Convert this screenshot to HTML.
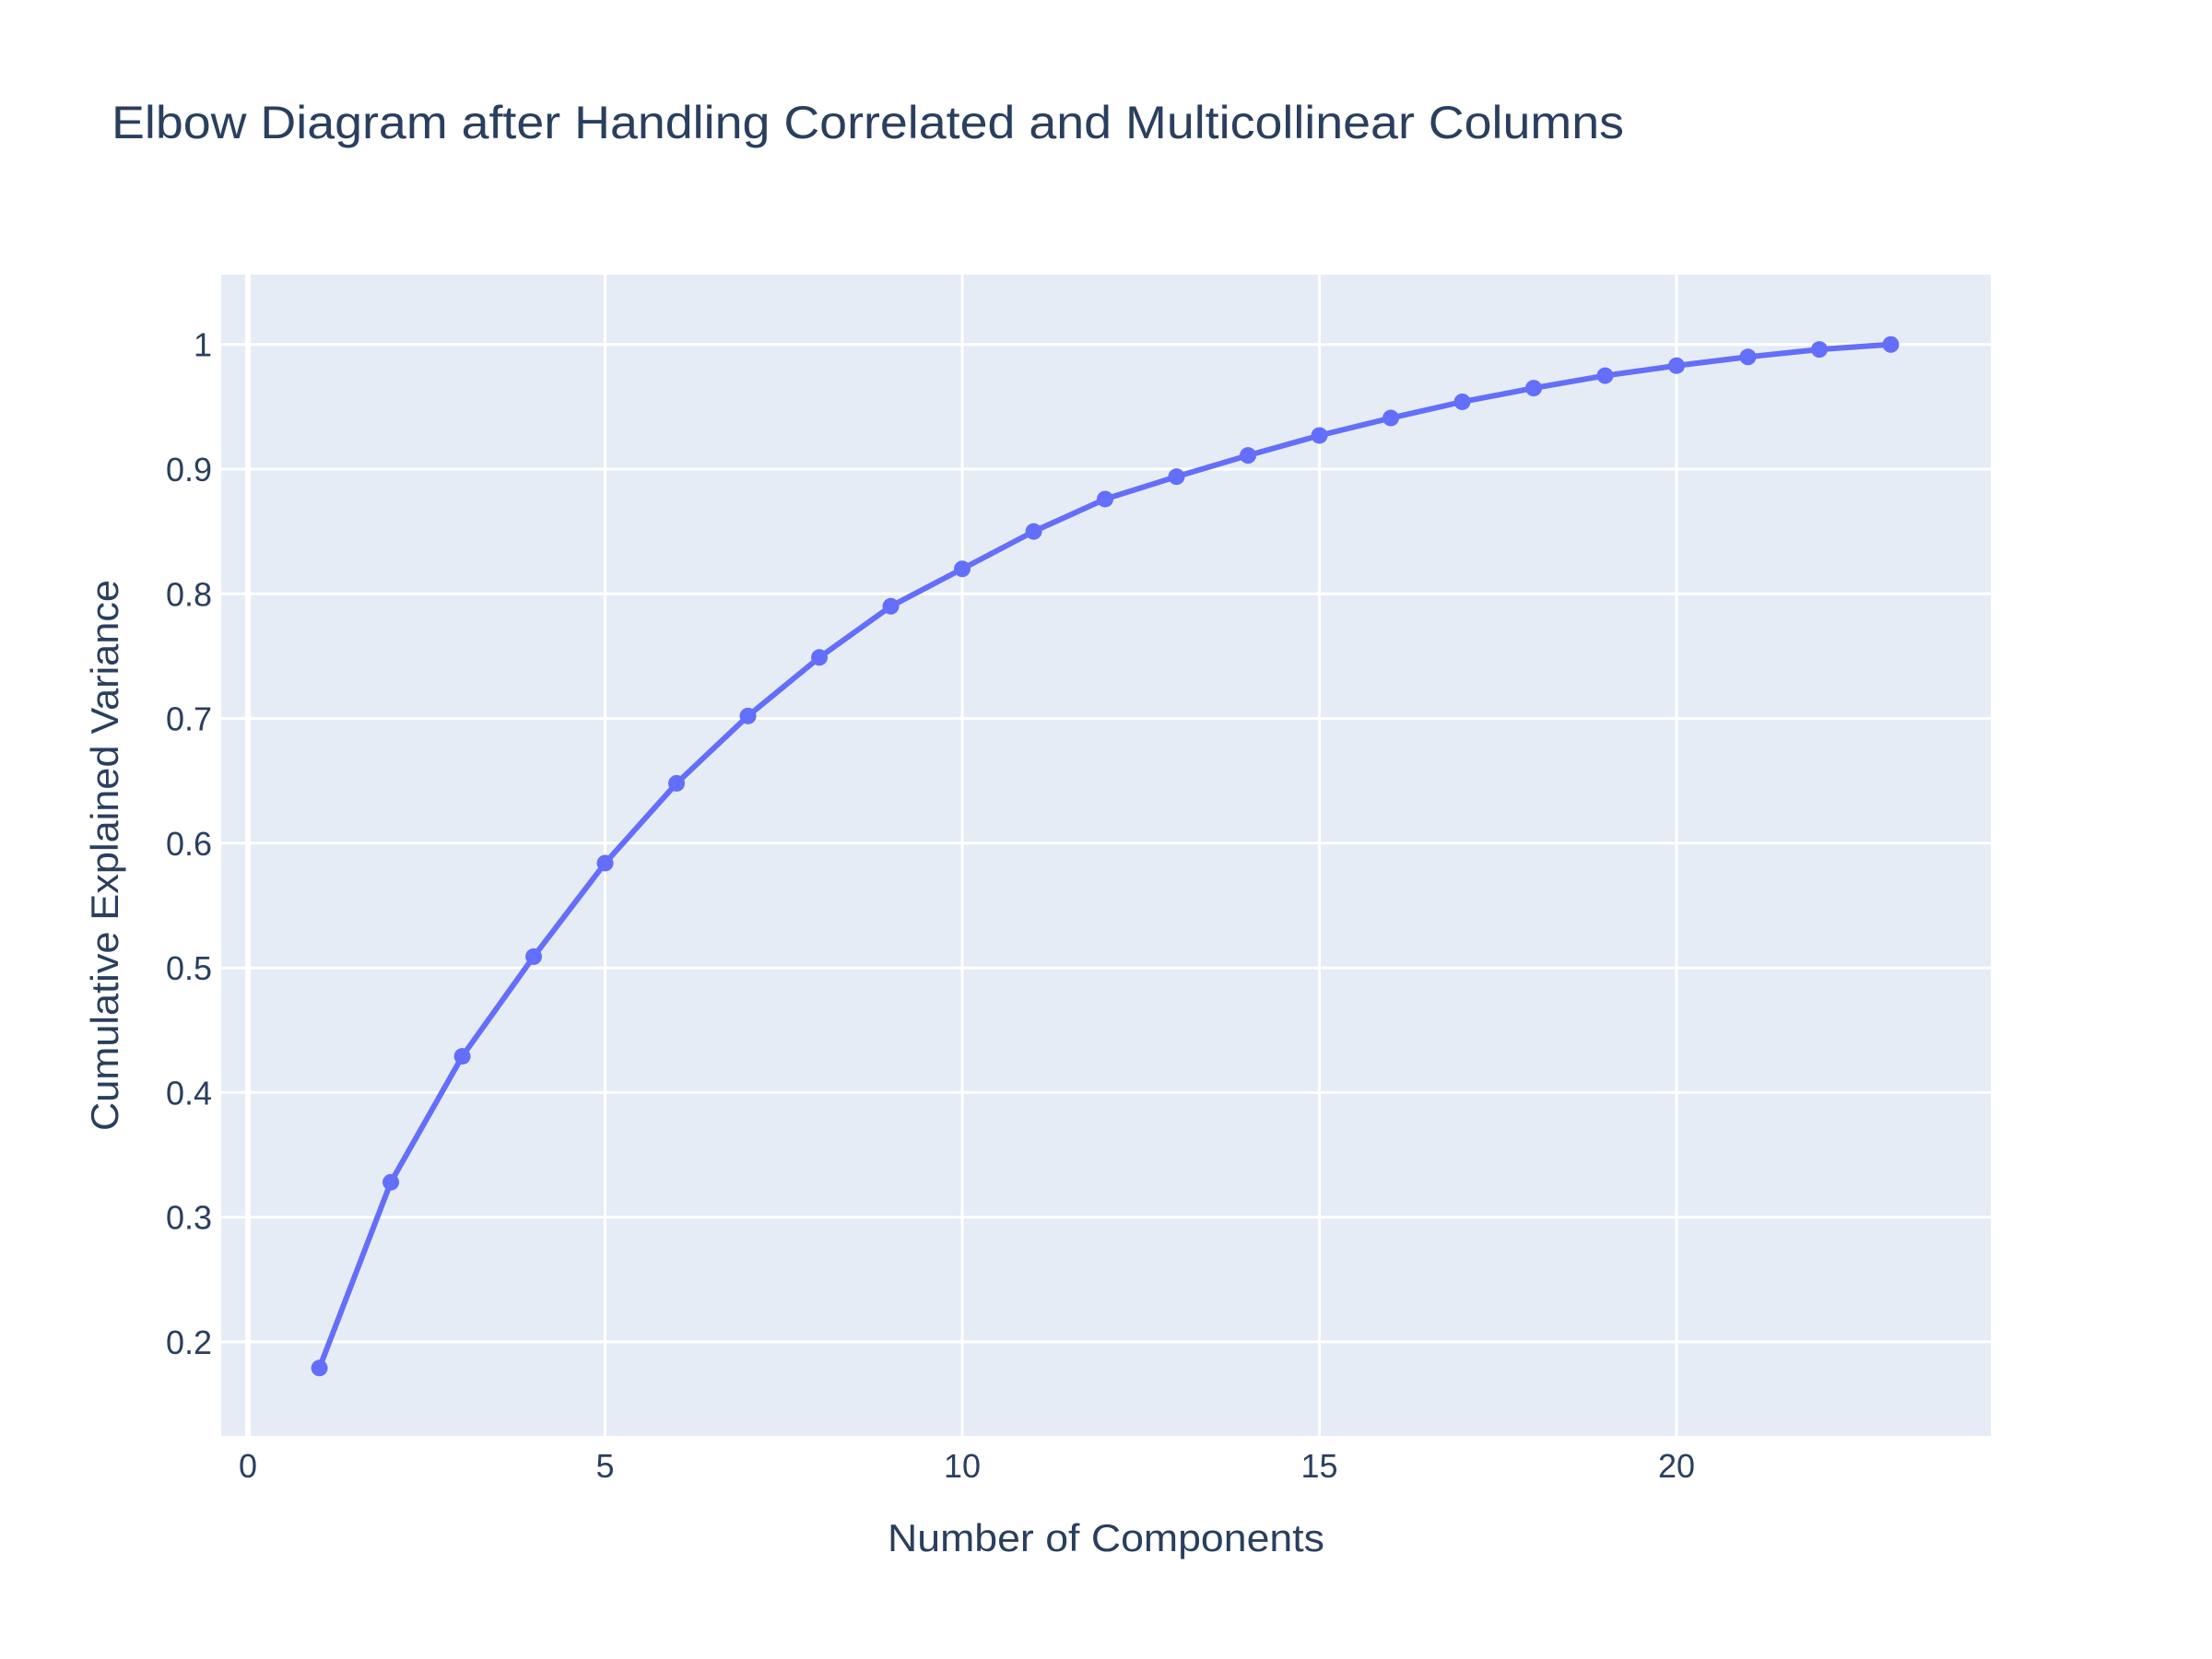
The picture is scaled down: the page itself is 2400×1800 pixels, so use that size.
<!DOCTYPE html>
<html>
<head>
<meta charset="utf-8">
<style>
html,body{margin:0;padding:0;background:#fff;}
svg{display:block;}
text{font-family:"Liberation Sans","DejaVu Sans",sans-serif;fill:#2a3f5f;}
</style>
</head>
<body>
<svg id="chart" width="2400" height="1800" viewBox="0 0 2400 1800">
  <rect x="0" y="0" width="2400" height="1800" fill="#ffffff"/>
  <rect id="plotbg" x="240" y="298" width="1920" height="1260" fill="#E5ECF6"/>
  <g id="grid"></g>
  <g id="xticks"></g>
  <g id="yticks"></g>
  <g id="series"></g>
  <text x="121" y="150" font-size="50" textLength="1641" lengthAdjust="spacingAndGlyphs">Elbow Diagram after Handling Correlated and Multicollinear Columns</text>
  <text x="1200" y="1683" font-size="42" text-anchor="middle" textLength="474" lengthAdjust="spacingAndGlyphs">Number of Components</text>
  <text x="0" y="0" font-size="42" text-anchor="middle" textLength="598" lengthAdjust="spacingAndGlyphs" transform="translate(128,928) rotate(-90)">Cumulative Explained Variance</text>
</svg>
<script>
const components = [1,2,3,4,5,6,7,8,9,10,11,12,13,14,15,16,17,18,19,20,21,22,23];
const cumulativeVariance = [0.179,0.328,0.429,0.509,0.584,0.648,0.702,0.749,0.790,0.820,0.850,0.876,0.894,0.911,0.927,0.941,0.954,0.965,0.975,0.983,0.990,0.996,1.0];
const xTickValues = [0,5,10,15,20];
const xTickLabels = ["0","5","10","15","20"];
const yTickValues = [0.2,0.3,0.4,0.5,0.6,0.7,0.8,0.9,1.0];
const yTickLabels = ["0.2","0.3","0.4","0.5","0.6","0.7","0.8","0.9","1"];

const NS = "http://www.w3.org/2000/svg";
const L = 240, R = 2160, T = 298, B = 1558;
const xMin = -0.375, xMax = 24.4, yMin = 0.1245, yMax = 1.056;
function xs(v){ return L + (v - xMin) / (xMax - xMin) * (R - L); }
function ys(v){ return B - (v - yMin) / (yMax - yMin) * (B - T); }

const grid = document.getElementById('grid');
const xt = document.getElementById('xticks');
const yt = document.getElementById('yticks');
const series = document.getElementById('series');

xTickValues.forEach((v, i) => {
  const l = document.createElementNS(NS, 'line');
  l.setAttribute('x1', xs(v)); l.setAttribute('x2', xs(v));
  l.setAttribute('y1', T); l.setAttribute('y2', B);
  l.setAttribute('stroke', '#fff'); l.setAttribute('stroke-width', v === 0 ? 6 : 3);
  
  
  grid.appendChild(l);
  const t = document.createElementNS(NS, 'text');
  t.setAttribute('x', xs(v)); t.setAttribute('y', 1603);
  t.setAttribute('font-size', '36'); t.setAttribute('text-anchor', 'middle');
  t.textContent = xTickLabels[i];
  
  
  xt.appendChild(t);
});
yTickValues.forEach((v, i) => {
  const l = document.createElementNS(NS, 'line');
  l.setAttribute('x1', L); l.setAttribute('x2', R);
  l.setAttribute('y1', ys(v)); l.setAttribute('y2', ys(v));
  l.setAttribute('stroke', '#fff'); l.setAttribute('stroke-width', 3);
  
  
  grid.appendChild(l);
  const t = document.createElementNS(NS, 'text');
  t.setAttribute('x', 230); t.setAttribute('y', ys(v) + 13);
  t.setAttribute('font-size', '36'); t.setAttribute('text-anchor', 'end');
  t.textContent = yTickLabels[i];
  
  
  yt.appendChild(t);
});

const pts = components.map((c, i) => xs(c) + ',' + ys(cumulativeVariance[i])).join(' ');
const pl = document.createElementNS(NS, 'polyline');
pl.setAttribute('points', pts);
pl.setAttribute('fill', 'none'); pl.setAttribute('stroke', '#636efa');
pl.setAttribute('stroke-width', 6); pl.setAttribute('stroke-linejoin', 'round');


series.appendChild(pl);
components.forEach((c, i) => {
  const m = document.createElementNS(NS, 'circle');
  m.setAttribute('cx', xs(c)); m.setAttribute('cy', ys(cumulativeVariance[i]));
  m.setAttribute('r', 9); m.setAttribute('fill', '#636efa');
  
  
  series.appendChild(m);
});
</script>
</body>
</html>
